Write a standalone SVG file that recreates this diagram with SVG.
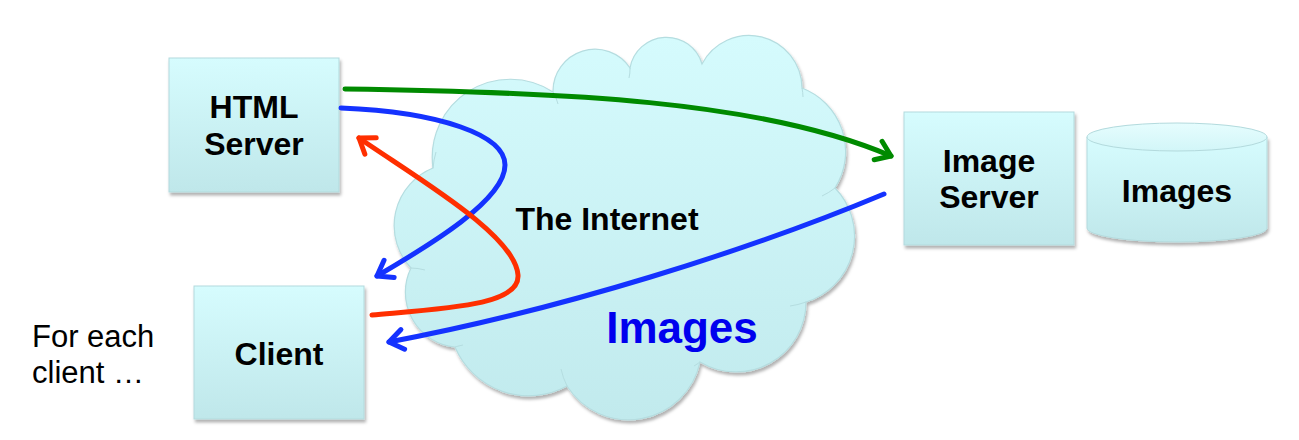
<svg xmlns="http://www.w3.org/2000/svg" width="1299" height="440" viewBox="0 0 1299 440">
<style>
.box{fill:url(#boxg);stroke:#b3dadd;stroke-width:1;filter:url(#sh)}
.lbl{font-family:"Liberation Sans",Arial,sans-serif;font-weight:bold;font-size:32px;fill:#000;text-anchor:middle}
.conn{fill:none;stroke-width:5;stroke-linecap:round}
.plain{font-family:"Liberation Sans",Arial,sans-serif;font-size:31px;fill:#000}
</style>
<defs>
<linearGradient id="boxg" x1="0" y1="0" x2="0" y2="1"><stop offset="0" stop-color="#d6fcfe"/><stop offset="1" stop-color="#bfe7ea"/></linearGradient>
<linearGradient id="cloudg" x1="0" y1="0" x2="0" y2="1"><stop offset="0" stop-color="#d5fbfd"/><stop offset="1" stop-color="#c1eaed"/></linearGradient>
<linearGradient id="topg" x1="0" y1="0" x2="0" y2="1"><stop offset="0" stop-color="#e6fdfe"/><stop offset="1" stop-color="#d2f6f8"/></linearGradient>
<filter id="sh" x="-10%" y="-10%" width="130%" height="130%"><feDropShadow dx="1.5" dy="3" stdDeviation="1.5" flood-color="#000" flood-opacity="0.3"/></filter>
<marker id="ag" markerUnits="userSpaceOnUse" markerWidth="30" markerHeight="30" refX="0" refY="0" viewBox="-20 -15 25 30" orient="auto"><path d="M-14,-10 L0,0 L-14,10" fill="none" stroke="#008a00" stroke-width="5" stroke-linecap="round" stroke-linejoin="round"/></marker>
<marker id="ab" markerUnits="userSpaceOnUse" markerWidth="30" markerHeight="30" refX="0" refY="0" viewBox="-20 -15 25 30" orient="auto"><path d="M-14,-10 L0,0 L-14,10" fill="none" stroke="#1432ff" stroke-width="5" stroke-linecap="round" stroke-linejoin="round"/></marker>
<marker id="ar" markerUnits="userSpaceOnUse" markerWidth="30" markerHeight="30" refX="0" refY="0" viewBox="-20 -15 25 30" orient="auto"><path d="M-14,-10 L0,0 L-14,10" fill="none" stroke="#ff2f00" stroke-width="5" stroke-linecap="round" stroke-linejoin="round"/></marker>
</defs>
<rect width="1299" height="440" fill="#fff"/>
<g id="cloud">
<path d="M433,168 A78,78 0 0 1 553,92 A42,42 0 0 1 630,68 A37,37 0 0 1 702,64 A53,53 0 0 1 802,88 A68,68 0 0 1 835,188 A69,69 0 0 1 806,302 A70,70 0 0 1 700,362 A73,73 0 0 1 567,386 A80,80 0 0 1 455,347 A55,55 0 0 1 411,268 A62,62 0 0 1 433,168 Z" fill="url(#cloudg)" stroke="#b5dde0" stroke-width="1.2" filter="url(#sh)"/>
<path d="M433,168 A78,78 0 0 1 436,152 M553,92 A42,42 0 0 1 558,104 M630,68 A37,37 0 0 1 629,78 M802,88 A53,53 0 0 1 803,97 M835,188 A68,68 0 0 1 822,196 M806,302 A69,69 0 0 1 790,306 M700,362 A70,70 0 0 1 694,366 M567,386 A73,73 0 0 1 561,369 M455,347 A80,80 0 0 1 463,345 M411,268 A55,55 0 0 1 425,270" fill="none" stroke="#b5dde0" stroke-width="1"/>
<text x="607" y="230" class="lbl">The Internet</text>
<text x="682" y="343" class="lbl" style="font-size:44px;fill:#0000ee">Images</text>
</g>
<g id="html-server">
<rect class="box" x="169" y="58" width="170" height="134"/>
<text class="lbl" x="254" y="118">HTML</text>
<text class="lbl" x="254" y="155">Server</text>
</g>
<g id="client">
<rect class="box" x="194" y="286" width="170" height="133"/>
<text class="lbl" x="279" y="365">Client</text>
</g>
<g id="image-server">
<rect class="box" x="904" y="112" width="170" height="133"/>
<text class="lbl" x="989" y="172">Image</text>
<text class="lbl" x="989" y="208">Server</text>
</g>
<g id="images-db">
<path d="M1087,137 L1087,228 A90,14 0 0 0 1267,228 L1267,137 Z" fill="url(#boxg)" stroke="#b3dadd" stroke-width="1" filter="url(#sh)"/>
<ellipse cx="1177" cy="137" rx="90" ry="14" fill="url(#topg)" stroke="#b3dadd" stroke-width="1"/>
<text class="lbl" x="1177" y="202">Images</text>
</g>
<g id="note">
<text class="plain" x="32" y="347">For each</text>
<text class="plain" x="32" y="383">client …</text>
</g>
<g id="connectors">
<path class="conn" stroke="#008a00" d="M345,89 C560,92 760,100 891,156" marker-end="url(#ag)"/>
<path class="conn" stroke="#1432ff" d="M341,108 C440,112 505,135 505,165 C505,200 430,245 377,276" marker-end="url(#ab)"/>
<path class="conn" stroke="#ff2f00" d="M372,315 C450,308 520,305 518,275 C515,235 420,180 359,138" marker-end="url(#ar)"/>
<path class="conn" stroke="#1432ff" d="M884,194 C750,250 560,310 389,342" marker-end="url(#ab)"/>
</g>
</svg>
